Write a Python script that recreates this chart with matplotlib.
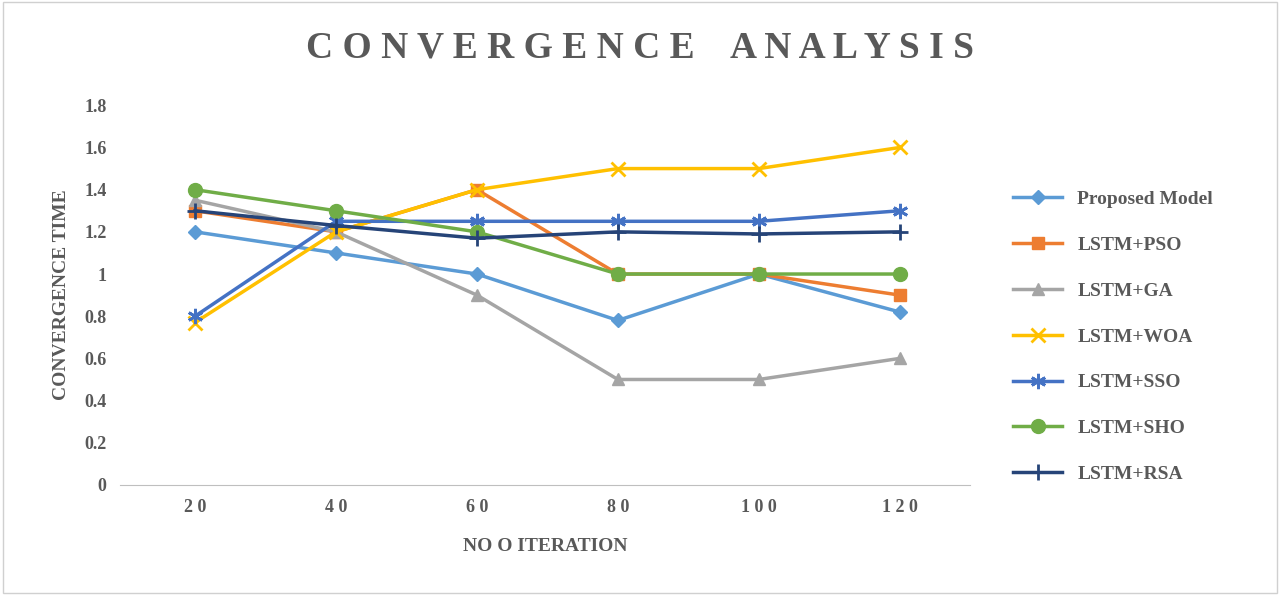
import matplotlib
matplotlib.use("Agg")
import matplotlib.pyplot as plt
from matplotlib.patches import Rectangle

iterations = ["20", "40", "60", "80", "100", "120"]
proposed = [1.2, 1.1, 1.0, 0.78, 1.0, 0.82]
pso = [1.3, 1.2, 1.4, 1.0, 1.0, 0.9]
ga = [1.35, 1.2, 0.9, 0.5, 0.5, 0.6]
woa = [0.77, 1.2, 1.4, 1.5, 1.5, 1.6]
sso = [0.8, 1.25, 1.25, 1.25, 1.25, 1.3]
sho = [1.4, 1.3, 1.2, 1.0, 1.0, 1.0]
rsa = [1.3, 1.23, 1.17, 1.2, 1.19, 1.2]

series = [
    ("Proposed Model", proposed, "#5B9BD5", "D", 7),
    ("LSTM+PSO", pso, "#ED7D31", "s", 9),
    ("LSTM+GA", ga, "#A5A5A5", "^", 9),
    ("LSTM+WOA", woa, "#FFC000", "x", 10),
    ("LSTM+SSO", sso, "#4472C4", (6, 2, 0), 11),
    ("LSTM+SHO", sho, "#70AD47", "o", 10),
    ("LSTM+RSA", rsa, "#264478", "+", 11),
]

plt.rcParams['font.family'] = ['Liberation Serif', 'DejaVu Serif']
fig = plt.figure(figsize=(12.8, 5.95), dpi=100)
fig.patches.append(Rectangle((0.002, 0.003), 0.996, 0.994, transform=fig.transFigure,
                             fill=False, edgecolor="#d0d0d0", lw=1))
ax = fig.add_axes([0.094, 0.185, 0.664, 0.638])
x = list(range(len(iterations)))
for name, vals, c, m, ms in series:
    ax.plot(x, vals, color=c, lw=2.5, marker=m, markersize=ms, mew=2 if m in ("x", "+", (6, 2, 0)) else 1, label=name)
ax.set_xlim(-0.53, 5.5)
ax.set_ylim(0, 1.8)
ax.set_yticks([0, 0.2, 0.4, 0.6, 0.8, 1, 1.2, 1.4, 1.6, 1.8])
ax.set_yticklabels(["0", "0.2", "0.4", "0.6", "0.8", "1", "1.2", "1.4", "1.6", "1.8"])
ax.set_xticks(x)
ax.set_xticklabels([" ".join(s) for s in iterations])
for s in ["top", "right", "left"]:
    ax.spines[s].set_visible(False)
ax.spines["bottom"].set_color("#bfbfbf")
ax.tick_params(length=0, labelsize=13, colors="#595959", pad=10)
for t in ax.get_xticklabels() + ax.get_yticklabels():
    t.set_fontweight("bold")
ax.set_xlabel("NO O ITERATION", fontsize=14, fontweight="bold", color="#595959", labelpad=16)
ax.set_ylabel("CONVERGENCE TIME", fontsize=14, fontweight="bold", color="#595959", labelpad=10)
fig.text(0.5, 0.92, "C O N V E R G E N C E    A N A L Y S I S",
         ha="center", va="center", fontsize=27, fontweight="bold", color="#595959")
leg = ax.legend(loc="center left", bbox_to_anchor=(1.03, 0.39), frameon=False,
                fontsize=14, labelspacing=1.45, handlelength=2.5)
for t in leg.get_texts():
    t.set_fontweight("bold")
    t.set_color("#595959")
fig.savefig("out.png", dpi=100)
